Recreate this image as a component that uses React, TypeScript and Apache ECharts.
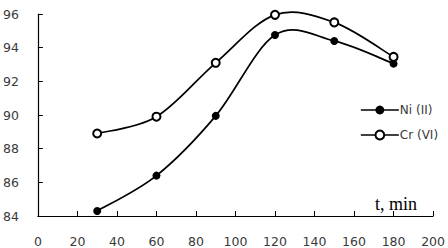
import React, { useEffect, useRef } from "react";
import * as echarts from "echarts";

const times = [30, 60, 90, 120, 150, 180];
const niValues = [84.3, 86.4, 89.95, 94.75, 94.4, 93.05];
const crValues = [88.9, 89.9, 93.1, 95.95, 95.5, 93.45];
const seriesNames = ["Ni (II)", "Cr (VI)"];
const xAxisName = "t, min";

function curveSeries(values: number[], name: string) {
  return {
    name,
    type: "custom",
    z: 1,
    silent: true,
    data: times.map((t, i) => [t, values[i]]),
    encode: { x: 0, y: 1 },
    renderItem: (params: any, api: any) => {
      const i = params.dataIndex;
      const n = times.length;
      if (i >= n - 1) return null;
      const p = (j: number) => {
        const k = Math.max(0, Math.min(n - 1, j));
        return api.coord([times[k], values[k]]);
      };
      const p0 = p(i - 1);
      const p1 = p(i);
      const p2 = p(i + 1);
      const p3 = p(i + 2);
      const t = 1 / 6;
      const c1 = [p1[0] + (p2[0] - p0[0]) * t, p1[1] + (p2[1] - p0[1]) * t];
      const c2 = [p2[0] - (p3[0] - p1[0]) * t, p2[1] - (p3[1] - p1[1]) * t];
      return {
        type: "bezierCurve",
        shape: {
          x1: p1[0], y1: p1[1],
          x2: p2[0], y2: p2[1],
          cpx1: c1[0], cpy1: c1[1],
          cpx2: c2[0], cpy2: c2[1],
        },
        style: { stroke: "#000", lineWidth: 1.7, fill: null },
      };
    },
  };
}

export default function App() {
  const ref = useRef<HTMLDivElement>(null);
  useEffect(() => {
    if (!ref.current) return;
    const chart = echarts.init(ref.current, null, { renderer: "svg" });
    const labelStyle = { color: "#3a3a3a", fontFamily: "DejaVu Sans", fontSize: 12.5 };
    chart.setOption({
      animation: false,
      backgroundColor: "#ffffff",
      grid: { left: 34, top: 14, right: 11, bottom: 32, containLabel: false },
      legend: {
        orient: "vertical",
        left: 360,
        top: 104,
        padding: 0,
        itemWidth: 38,
        itemHeight: 11,
        itemGap: 13,
        lineStyle: { color: "#000", width: 1.7, opacity: 1 },
        textStyle: { color: "#3a3a3a", fontFamily: "DejaVu Sans", fontSize: 12, padding: [0, 0, 0, -4] },
        data: seriesNames,
      },
      xAxis: {
        type: "value",
        min: 0,
        max: 200,
        interval: 20,
        axisLine: { lineStyle: { color: "#000", width: 1.2 } },
        axisTick: { inside: true, length: 5, lineStyle: { color: "#000" } },
        axisLabel: { ...labelStyle, margin: 19 },
        splitLine: { show: false },
        name: xAxisName,
        nameLocation: "end",
        nameGap: 0,
        nameTextStyle: {
          fontFamily: "Liberation Serif",
          fontSize: 18,
          color: "#000",
          align: "right",
          verticalAlign: "bottom",
          padding: [0, 16, 3, 0],
        },
      },
      yAxis: {
        type: "value",
        min: 84,
        max: 96,
        interval: 2,
        axisLine: { show: true, lineStyle: { color: "#000", width: 1.2 } },
        axisTick: { show: true, inside: true, length: 5, lineStyle: { color: "#000" } },
        axisLabel: { ...labelStyle, margin: 19 },
        splitLine: { show: false },
      },
      series: [
        curveSeries(niValues, "ni-curve"),
        curveSeries(crValues, "cr-curve"),
        {
          name: seriesNames[0],
          type: "line",
          z: 3,
          data: times.map((t, i) => [t, niValues[i]]),
          symbol: "circle",
          symbolSize: 8,
          showAllSymbol: true,
          itemStyle: { color: "#000" },
          lineStyle: { color: "#000", width: 0, opacity: 0 },
        },
        {
          name: seriesNames[1],
          type: "line",
          z: 3,
          data: times.map((t, i) => [t, crValues[i]]),
          symbol: "emptyCircle",
          symbolSize: 8,
          showAllSymbol: true,
          itemStyle: { color: "#000", borderColor: "#000", borderWidth: 1 },
          lineStyle: { color: "#000", width: 0, opacity: 0 },
        },
      ],
    });
    return () => chart.dispose();
  }, []);
  return <div ref={ref} style={{ width: 448, height: 248, position: "absolute", left: 0, top: 0 }} />;
}
